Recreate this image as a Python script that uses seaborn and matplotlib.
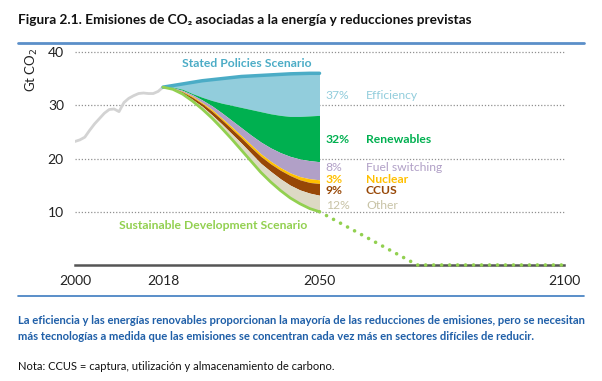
import numpy as np
import pandas as pd
import seaborn as sns
import matplotlib
matplotlib.use("Agg")
import matplotlib.pyplot as plt

# ---------------- data ----------------
hist_years = [2000, 2001, 2002, 2003, 2004, 2005, 2006, 2007, 2008, 2009,
              2010, 2011, 2012, 2013, 2014, 2015, 2016, 2017, 2018]
hist_vals = [23.2, 23.5, 24.0, 25.3, 26.5, 27.5, 28.5, 29.2, 29.3, 28.8,
             30.5, 31.3, 31.8, 32.2, 32.3, 32.2, 32.2, 32.6, 33.4]

proj_years = [2018, 2020, 2022, 2024, 2026, 2028, 2030, 2032, 2034, 2036,
              2038, 2040, 2042, 2044, 2046, 2048, 2050]
sps = [33.4, 33.7, 34.0, 34.3, 34.6, 34.8, 35.0, 35.2, 35.4, 35.5,
       35.6, 35.7, 35.8, 35.9, 35.95, 36.0, 36.0]
efficiency_bottom = [33.4, 33.4, 33.0, 32.2, 31.5, 30.9, 30.4, 30.0, 29.6, 29.2,
                     28.8, 28.4, 28.1, 27.9, 27.9, 28.0, 28.1]
renewables_bottom = [33.4, 33.3, 32.8, 32.0, 31.0, 29.9, 28.6, 27.2, 25.8, 24.4,
                     23.1, 22.0, 21.1, 20.4, 19.9, 19.6, 19.4]
fuel_bottom = [33.4, 33.2, 32.6, 31.7, 30.5, 29.2, 27.6, 26.0, 24.3, 22.6,
               20.9, 19.5, 18.3, 17.3, 16.6, 16.2, 16.0]
nuclear_bottom = [33.4, 33.2, 32.5, 31.5, 30.3, 28.9, 27.3, 25.6, 23.9, 22.1,
                  20.4, 19.0, 17.8, 16.8, 16.0, 15.5, 15.3]
ccus_bottom = [33.4, 33.1, 32.3, 31.1, 29.8, 28.2, 26.5, 24.7, 22.9, 21.0,
               19.1, 17.6, 16.2, 15.0, 14.1, 13.5, 13.1]
sds = [33.4, 33.0, 32.1, 30.8, 29.3, 27.6, 25.7, 23.7, 21.6, 19.5,
       17.4, 15.6, 14.0, 12.6, 11.5, 10.6, 10.0]

sds_ext_years = [2050, 2070, 2100]
sds_ext_vals = [10.0, 0.0, 0.0]

wedge_pcts = ["37%", "32%", "8%", "3%", "9%", "12%"]
wedge_names = ["Efficiency", "Renewables", "Fuel switching", "Nuclear", "CCUS", "Other"]
wedge_label_y = [31.9, 23.6, 18.4, 16.1, 13.9, 11.1]
wedge_colors = ["#92CDDC", "#00B050", "#B1A0C7", "#FFC000", "#974706", "#DDD9C4"]
wedge_text_colors = ["#92CDDC", "#00B050", "#B1A0C7", "#FFC000", "#974706", "#C8C3A6"]
wedge_weights = ["normal", "bold", "normal", "bold", "bold", "normal"]

x_ticks = [2000, 2018, 2050, 2100]
y_ticks = [10, 20, 30, 40]

# ---------------- style ----------------
sns.set_theme(style="white")
plt.rcParams["font.family"] = ["Lato", "DejaVu Sans"]

fig = plt.figure(figsize=(6.02, 3.81), dpi=100)
ax = fig.add_axes([75 / 602, 1 - 265 / 381, 489 / 602, 213 / 381])

hist_df = pd.DataFrame({"year": hist_years, "value": hist_vals})
proj = pd.DataFrame({"year": proj_years, "sps": sps, "eff": efficiency_bottom,
                     "ren": renewables_bottom, "fuel": fuel_bottom,
                     "nuc": nuclear_bottom, "ccus": ccus_bottom, "sds": sds})

tops = [proj["sps"], proj["eff"], proj["ren"], proj["fuel"], proj["nuc"], proj["ccus"]]
bots = [proj["eff"], proj["ren"], proj["fuel"], proj["nuc"], proj["ccus"], proj["sds"]]
for t, b, c in zip(tops, bots, wedge_colors):
    ax.fill_between(proj["year"], b, t, color=c, lw=0, zorder=2)

sns.lineplot(data=hist_df, x="year", y="value", ax=ax, color="#D3D3D3", lw=2, zorder=3)
sns.lineplot(data=proj, x="year", y="sps", ax=ax, color="#4BACC6", lw=2.5, zorder=4)
sns.lineplot(data=proj, x="year", y="sds", ax=ax, color="#92D050", lw=2, zorder=4)
ax.plot(sds_ext_years, sds_ext_vals, color="#92D050", lw=2.6,
        linestyle=(0, (0.01, 2.2)), dash_capstyle="round", zorder=4, clip_on=False)

ax.set_xlim(2000, 2100)
ax.set_ylim(0, 40)
ax.set_xticks(x_ticks)
ax.set_yticks(y_ticks)
ax.set_xlabel("")
ax.set_ylabel("")
ax.tick_params(axis="both", length=0, labelsize=10, colors="#222222")
ax.tick_params(axis="x", pad=7)
ax.tick_params(axis="y", pad=8)
for s in ["top", "right", "left"]:
    ax.spines[s].set_visible(False)
ax.spines["bottom"].set_color("#555555")
ax.spines["bottom"].set_linewidth(1.8)
for yv in y_ticks:
    ax.axhline(yv, color="#909090", lw=0.9, linestyle=(0, (1, 1.5)), zorder=1, clip_on=False)

# labels on the chart
lab_fs = 8.7
ax.text(2035.2, 37.8, "Stated Policies Scenario", color="#4BACC6", fontsize=lab_fs,
        fontweight="bold", ha="center", va="center")
ax.text(2028.2, 7.5, "Sustainable Development Scenario", color="#92D050", fontsize=lab_fs,
        fontweight="bold", ha="center", va="center")
for p, n, yv, c, w in zip(wedge_pcts, wedge_names, wedge_label_y, wedge_text_colors, wedge_weights):
    ax.text(2051.3, yv, p, color=c, fontsize=lab_fs, fontweight=w, ha="left", va="center")
    ax.text(2059.5, yv, n, color=c, fontsize=lab_fs, fontweight=w, ha="left", va="center")

fig.text(32 / 602, 1 - 70 / 381, "Gt CO$_2$", rotation=90, fontsize=9.5,
         ha="center", va="center", color="#222222")

# title, rules and captions
fig.text(18 / 602, 1 - 20 / 381,
         "Figura 2.1. Emisiones de CO₂ asociadas a la energía y reducciones previstas",
         fontsize=9.8, fontweight="bold", ha="left", va="center", color="#111111")
fig.add_artist(plt.Line2D([18 / 602, 584 / 602], [1 - 43 / 381, 1 - 43 / 381],
                          color="#5B8FC9", lw=2))
fig.add_artist(plt.Line2D([18 / 602, 584 / 602], [1 - 296 / 381, 1 - 296 / 381],
                          color="#3D7CC0", lw=1.2))
fig.text(18 / 602, 1 - 320 / 381,
         "La eficiencia y las energías renovables proporcionan la mayoría de las reducciones de emisiones, pero se necesitan",
         fontsize=8.1, fontweight="bold", ha="left", va="center", color="#1F5FA8")
fig.text(18 / 602, 1 - 337 / 381,
         "más tecnologías a medida que las emisiones se concentran cada vez más en sectores difíciles de reducir.",
         fontsize=8.1, fontweight="bold", ha="left", va="center", color="#1F5FA8")
fig.text(18 / 602, 1 - 367 / 381,
         "Nota: CCUS = captura, utilización y almacenamiento de carbono.",
         fontsize=8.0, ha="left", va="center", color="#111111")

fig.savefig("out.png", dpi=100)
